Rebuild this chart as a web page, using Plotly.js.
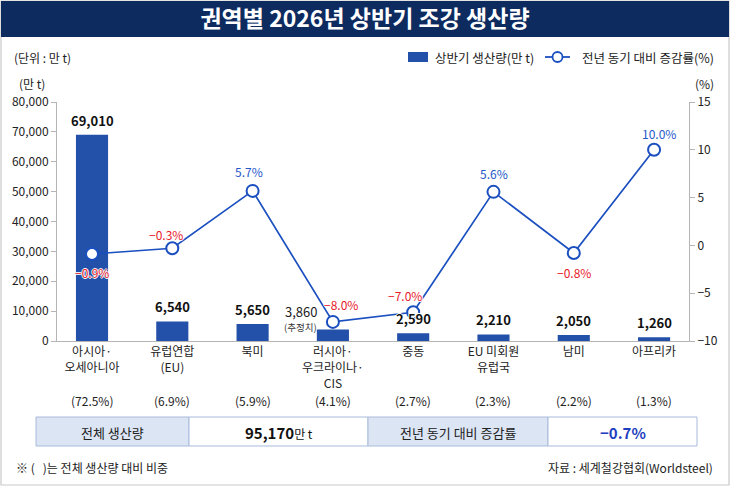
<!DOCTYPE html>
<html>
<head>
<meta charset="utf-8">
<script src="https://cdn.plot.ly/plotly-3.0.1.min.js"></script>
<style>
  html, body { margin: 0; padding: 0; background: #fff; }
  #chart { width: 730px; height: 487px; }
</style>
</head>
<body>
<div id="chart"></div>
<script>
// 권역별 2026년 상반기 조강 생산량 (단위: 만 t)
const regions = ['아시아·<br>오세아니아', '유럽연합<br>(EU)', '북미', '러시아·<br>우크라이나·<br>CIS', '중동', 'EU 미회원<br>유럽국', '남미', '아프리카'];
const production = [69010, 6540, 5650, 3860, 2590, 2210, 2050, 1260];
const yoyChange = [-0.9, -0.3, 5.7, -8.0, -7.0, 5.6, -0.8, 10.0];
const shares = [72.5, 6.9, 5.9, 4.1, 2.7, 2.3, 2.2, 1.3];
const estimatedFlags = [false, false, false, true, false, false, false, false];
const totalProduction = 95170;
const totalChange = -0.7;

// label offsets for the growth-rate labels (pixels: [xshift, yshift])
const rateLabelShift = [[0, -18], [-6, 14], [-4, 19], [8, 17], [-8, 17], [1, 18], [0, -19], [5, 16]];

const FONT = '"Noto Sans CJK KR", "Noto Sans", sans-serif';
const BAR_COLOR = '#2350a8';
const LINE_COLOR = '#1b4fc0';
const RED = '#e8202a';
const BLUE_TEXT = '#2457c8';
const HALO = '1px 0 0 #fff, -1px 0 0 #fff, 0 1px 0 #fff, 0 -1px 0 #fff';

// plot area in pixels
const W = 730, H = 487, L = 57, R = 689, T = 102, B = 341;
const fx = x => (x - L) / (R - L);
const fy = y => (B - y) / (B - T);

const fmtNum = v => v.toLocaleString('en-US');
const fmtPct = v => (v < 0 ? '\u2212' : '') + Math.abs(v).toFixed(1) + '%';

const traces = [
  {
    type: 'bar',
    x: regions,
    y: production,
    name: '상반기 생산량(만 t)',
    marker: { color: BAR_COLOR, line: { width: 0 } },
    width: 0.4,
    hoverinfo: 'skip'
  },
  {
    type: 'scatter',
    mode: 'lines+markers',
    x: regions,
    y: yoyChange,
    yaxis: 'y2',
    name: '전년 동기 대비 증감률(%)',
    line: { color: LINE_COLOR, width: 1.7 },
    marker: { size: 12, color: '#ffffff', line: { color: LINE_COLOR, width: 2 } },
    hoverinfo: 'skip'
  }
];

const annotations = [];
const shapes = [];

// bar value labels
production.forEach((v, i) => {
  if (estimatedFlags[i]) {
    annotations.push({ x: i, y: v, xref: 'x', yref: 'y', text: fmtNum(v), showarrow: false,
      xshift: -32, yshift: 18, yanchor: 'middle', font: { family: FONT, size: 13, color: '#222', shadow: HALO } });
    annotations.push({ x: i, y: v, xref: 'x', yref: 'y', text: '(추정치)', showarrow: false,
      xshift: -32, yshift: 2, yanchor: 'middle', font: { family: FONT, size: 9.5, color: '#333' } });
  } else {
    annotations.push({ x: i, y: v, xref: 'x', yref: 'y', text: fmtNum(v), showarrow: false,
      yanchor: 'bottom', yshift: 3, font: { family: FONT, size: 13, color: '#111', weight: 700, shadow: HALO } });
  }
});

// growth-rate labels
yoyChange.forEach((v, i) => {
  annotations.push({ x: i, y: v, xref: 'x', yref: 'y2', text: fmtPct(v), showarrow: false,
    xshift: rateLabelShift[i][0], yshift: rateLabelShift[i][1], yanchor: 'middle',
    font: { family: FONT, size: 12, color: v < 0 ? RED : BLUE_TEXT, shadow: HALO } });
});

// share of total under each category
shares.forEach((s, i) => {
  annotations.push({ x: i, y: fy(400), xref: 'x', yref: 'paper', text: '(' + s.toFixed(1) + '%)',
    showarrow: false, yanchor: 'middle', font: { family: FONT, size: 12, color: '#222' } });
});

// outer frame and header band
shapes.push({ type: 'rect', xref: 'paper', yref: 'paper', layer: 'below',
  x0: fx(1), x1: fx(729), y0: fy(1), y1: fy(485), line: { color: '#c9c9c9', width: 1.2 }, fillcolor: 'rgba(0,0,0,0)' });
shapes.push({ type: 'rect', xref: 'paper', yref: 'paper', layer: 'below',
  x0: fx(1), x1: fx(729), y0: fy(1), y1: fy(37), line: { width: 0 }, fillcolor: '#0d2b5f' });

// legend
shapes.push({ type: 'rect', xref: 'paper', yref: 'paper', x0: fx(408), x1: fx(428), y0: fy(52), y1: fy(62),
  fillcolor: BAR_COLOR, line: { width: 0 } });
shapes.push({ type: 'line', xref: 'paper', yref: 'paper', x0: fx(545), x1: fx(570), y0: fy(57), y1: fy(57),
  line: { color: LINE_COLOR, width: 1.8 } });
shapes.push({ type: 'circle', xref: 'paper', yref: 'paper', x0: fx(552.5), x1: fx(562.5), y0: fy(52), y1: fy(62),
  fillcolor: '#fff', line: { color: LINE_COLOR, width: 1.8 } });
annotations.push({ xref: 'paper', yref: 'paper', x: fx(433), y: fy(57), xanchor: 'left', yanchor: 'middle',
  text: traces[0].name, showarrow: false, font: { family: FONT, size: 12.5, color: '#222' } });
annotations.push({ xref: 'paper', yref: 'paper', x: fx(580), y: fy(57), xanchor: 'left', yanchor: 'middle',
  text: traces[1].name, showarrow: false, font: { family: FONT, size: 12.5, color: '#222' } });

// unit notes and axis captions
annotations.push({ xref: 'paper', yref: 'paper', x: fx(12), y: fy(57), xanchor: 'left', yanchor: 'middle',
  text: '(단위 : 만 t)', showarrow: false, font: { family: FONT, size: 12, color: '#222' } });
annotations.push({ xref: 'paper', yref: 'paper', x: fx(17), y: fy(84), xanchor: 'left', yanchor: 'middle',
  text: '(만 t)', showarrow: false, font: { family: FONT, size: 12, color: '#222' } });
annotations.push({ xref: 'paper', yref: 'paper', x: fx(716), y: fy(84), xanchor: 'right', yanchor: 'middle',
  text: '(%)', showarrow: false, font: { family: FONT, size: 12, color: '#222' } });

// summary table
const cells = [
  { x0: 36, x1: 189, fill: '#dce5f4', text: '전체 생산량', font: { size: 13, color: '#222' } },
  { x0: 189, x1: 368, fill: '#ffffff', text: '<b>' + fmtNum(totalProduction) + '</b><span style="font-size:12px">만 t</span>', font: { size: 15, color: '#111' } },
  { x0: 368, x1: 548, fill: '#dce5f4', text: '전년 동기 대비 증감률', font: { size: 13, color: '#222' } },
  { x0: 548, x1: 697, fill: '#ffffff', text: '<b>' + fmtPct(totalChange) + '</b>', font: { size: 15, color: '#1f3fc0' } }
];
cells.forEach(c => {
  shapes.push({ type: 'rect', xref: 'paper', yref: 'paper', layer: 'below',
    x0: fx(c.x0), x1: fx(c.x1), y0: fy(417), y1: fy(446), fillcolor: c.fill, line: { color: '#a9bbdb', width: 1 } });
  annotations.push({ xref: 'paper', yref: 'paper', x: fx((c.x0 + c.x1) / 2), y: fy(432), xanchor: 'center', yanchor: 'middle',
    text: c.text, showarrow: false, font: Object.assign({ family: FONT }, c.font) });
});

// footnotes
annotations.push({ xref: 'paper', yref: 'paper', x: fx(14), y: fy(467), xanchor: 'left', yanchor: 'middle',
  text: '※ (   )는 전체 생산량 대비 비중', showarrow: false, font: { family: FONT, size: 12, color: '#222' } });
annotations.push({ xref: 'paper', yref: 'paper', x: fx(715), y: fy(467), xanchor: 'right', yanchor: 'middle',
  text: '자료 : 세계철강협회(Worldsteel)', showarrow: false, font: { family: FONT, size: 12, color: '#222' } });

const layout = {
  width: W, height: H,
  margin: { l: L, r: W - R, t: T, b: H - B, pad: 0 },
  paper_bgcolor: '#ffffff', plot_bgcolor: 'rgba(0,0,0,0)',
  font: { family: FONT, color: '#222' },
  showlegend: false,
  title: {
    text: '권역별 2026년 상반기 조강 생산량',
    xref: 'container', yref: 'container', x: 0.5, y: 1 - 19 / H, xanchor: 'center', yanchor: 'middle',
    font: { family: FONT, size: 23, color: '#ffffff', weight: 700 }
  },
  xaxis: {
    type: 'category', range: [-0.436, 7.435], showline: true, linecolor: '#b5b5b5', linewidth: 1,
    ticks: '', showgrid: false, zeroline: false, fixedrange: true,
    tickfont: { family: FONT, size: 12, color: '#222' }
  },
  yaxis: {
    range: [0, 80000], dtick: 10000, tickformat: ',d', showline: true, linecolor: '#b5b5b5', linewidth: 1,
    ticks: 'outside', ticklen: 5, tickcolor: '#b5b5b5', showgrid: false, zeroline: false, fixedrange: true,
    tickfont: { family: FONT, size: 12, color: '#222' }
  },
  yaxis2: {
    overlaying: 'y', side: 'right', range: [-10, 15], dtick: 5, showline: true, linecolor: '#b5b5b5', linewidth: 1,
    ticks: 'outside', ticklen: 5, tickcolor: '#b5b5b5', showgrid: false, zeroline: false, fixedrange: true,
    tickfont: { family: FONT, size: 12, color: '#222' }
  },
  annotations: annotations,
  shapes: shapes
};

Plotly.newPlot('chart', traces, layout, { displayModeBar: false, staticPlot: true });
</script>
</body>
</html>
